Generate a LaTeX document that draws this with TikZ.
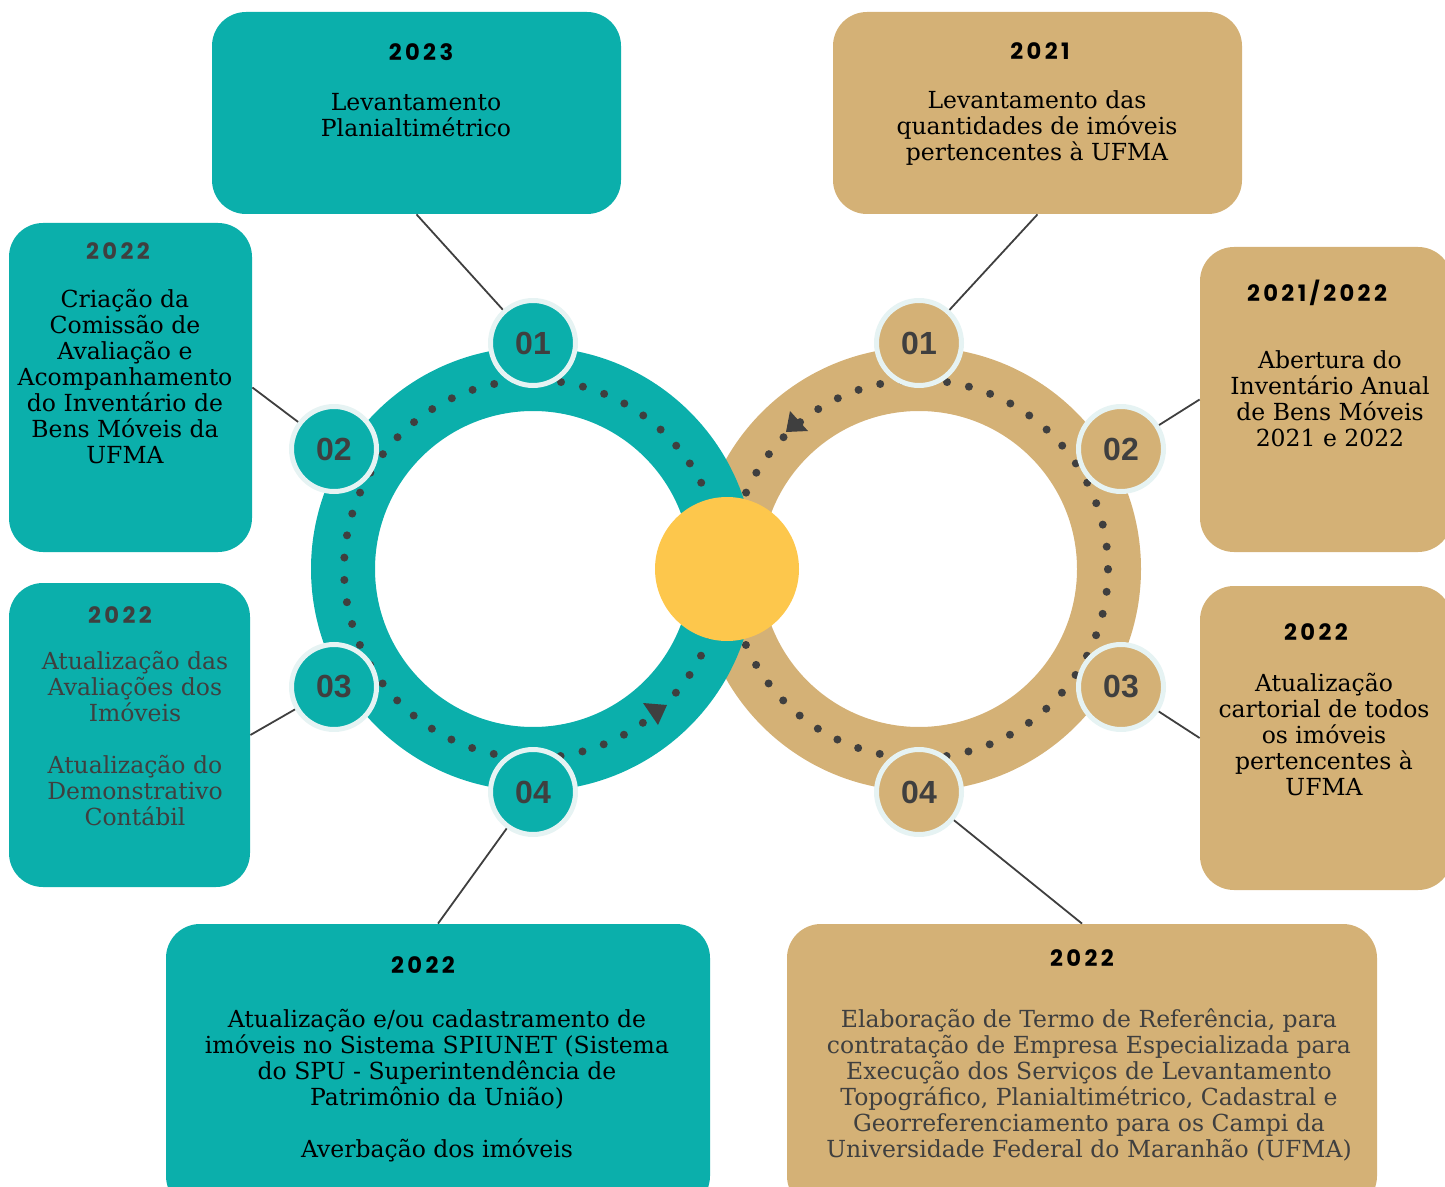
\documentclass[tikz,border=0pt]{standalone}
\usepackage{fontspec}
\setmainfont{DejaVu Serif}
\newfontfamily\yearfont{Poppins}[LetterSpace=15]
\newfontfamily\numfont{Liberation Sans}
\usetikzlibrary{fit}
\definecolor{tealc}{HTML}{0BAFAB}
\definecolor{tanc}{HTML}{D4B176}
\definecolor{sunc}{HTML}{FDC74C}
\definecolor{darkc}{HTML}{3F3F3F}
\definecolor{rimc}{HTML}{E6F3F3}
\begin{document}
\begin{tikzpicture}[x=0.5pt,y=-0.5pt,
  box/.style={inner sep=0pt, rounded corners=17pt},
  numc/.style={circle, minimum size=42.5pt, inner sep=0pt, line width=2.5pt, draw=rimc,
    font=\numfont\bfseries\fontsize{16}{16}\selectfont, text=darkc},
  yr/.style={font=\yearfont\bfseries\fontsize{11.3}{13}\selectfont, inner sep=0pt},
  body/.style={font=\fontsize{11.75}{13}\selectfont, align=center, inner sep=0pt},
  link/.style={draw=darkc, line width=0.9pt},
  ringstyle/.style={line width=32pt},
  dotring/.style={darkc, line width=4pt, line cap=round, dash pattern=on 0pt off 11.2pt},
]
\useasboundingbox (0,0) rectangle (1445,1187);
\clip (0,0) rectangle (1445,1187);

% boxes
\node[box, fill=tealc, fit={(212,12) (621,214)}] (b23) {};
\node[box, fill=tanc, fit={(833,12) (1242,214)}] (b21) {};
\node[box, fill=tealc, fit={(9,223) (252,552)}] (bl1) {};
\node[box, fill=tealc, fit={(9,583) (250,887)}] (bl2) {};
\node[box, fill=tanc, fit={(1200,247) (1452,552)}] (br1) {};
\node[box, fill=tanc, fit={(1200,586) (1452,890)}] (br2) {};
\node[box, fill=tealc, fit={(166,924) (710,1210)}] (bb1) {};
\node[box, fill=tanc, fit={(787,924) (1377,1210)}] (bb2) {};

% rings
\draw[tanc, ringstyle] (919,569) circle[radius=95pt];
\draw[dotring] (919,569) circle[radius=94.5pt];
\draw[tealc, ringstyle] (533,569) circle[radius=95pt];
\draw[dotring] (533,569) circle[radius=94.5pt];
\fill[sunc] (727,569) circle[radius=36pt];

% arrow heads
\fill[darkc] (643,703) -- (667,705) -- (658,725) -- cycle;
\fill[darkc] (790,411) -- (786,432) -- (808,431) -- cycle;

% number circles
\node[numc, fill=tealc] (L1) at (533,343) {01};
\node[numc, fill=tealc] (L2) at (334,449) {02};
\node[numc, fill=tealc] (L3) at (334,687) {03};
\node[numc, fill=tealc] (L4) at (533,792) {04};
\node[numc, fill=tanc] (R1) at (919,343) {01};
\node[numc, fill=tanc] (R2) at (1121,449) {02};
\node[numc, fill=tanc] (R3) at (1121,687) {03};
\node[numc, fill=tanc] (R4) at (919,792) {04};

% connectors
\draw[link] (b23.south) -- (L1);
\draw[link] (b21.south) -- (R1);
\draw[link] (bl1.east) -- (L2);
\draw[link] (bl2.east) -- (L3);
\draw[link] (br1.west) -- (R2);
\draw[link] (br2.west) -- (R3);
\draw[link] (bb1.north) -- (L4);
\draw[link] (bb2.north) -- (R4);

% texts
\node[yr] (y23) at (421,52) {2023};
\node[body] (t23) at (416,115) {Levantamento\\Planialtimétrico};

\node[yr] (y21) at (1040,51) {2021};
\node[body] (t21) at (1037,128) {Levantamento das\\quantidades de imóveis\\pertencentes à UFMA};

\node[yr, text=darkc] (yl1) at (118,251) {2022};
\node[body] (tl1) at (125,377) {Criação da\\Comissão de\\Avaliação e\\Acompanhamento\\do Inventário de\\Bens Móveis da\\UFMA};

\node[yr, text=darkc] (yl2) at (120,615) {2022};
\node[body, text=darkc] (tl2) at (135,739) {Atualização das\\Avaliações dos\\Imóveis\\[13pt]Atualização do\\Demonstrativo\\Contábil};

\node[yr] (yr1) at (1317,293) {2021/2022};
\node[body] (tr1) at (1330,399) {Abertura do\\Inventário Anual\\de Bens Móveis\\2021 e 2022};

\node[yr] (yr2) at (1316,632) {2022};
\node[body] (tr2) at (1324,735) {Atualização\\cartorial de todos\\os imóveis\\pertencentes à\\UFMA};

\node[yr] (yb1) at (423,965) {2022};
\node[body] (tb1) at (437,1086) {Atualização e/ou cadastramento de\\imóveis no Sistema SPIUNET (Sistema\\do SPU - Superintendência de\\Patrimônio da União)\\[13pt]Averbação dos imóveis};

\node[yr] (yb2) at (1082,958) {2022};
\node[body, text=darkc] (tb2) at (1089,1085) {Elaboração de Termo de Referência, para\\contratação de Empresa Especializada para\\Execução dos Serviços de Levantamento\\Topográfico, Planialtimétrico, Cadastral e\\Georreferenciamento para os Campi da\\Universidade Federal do Maranhão (UFMA)};
\end{tikzpicture}
\end{document}
